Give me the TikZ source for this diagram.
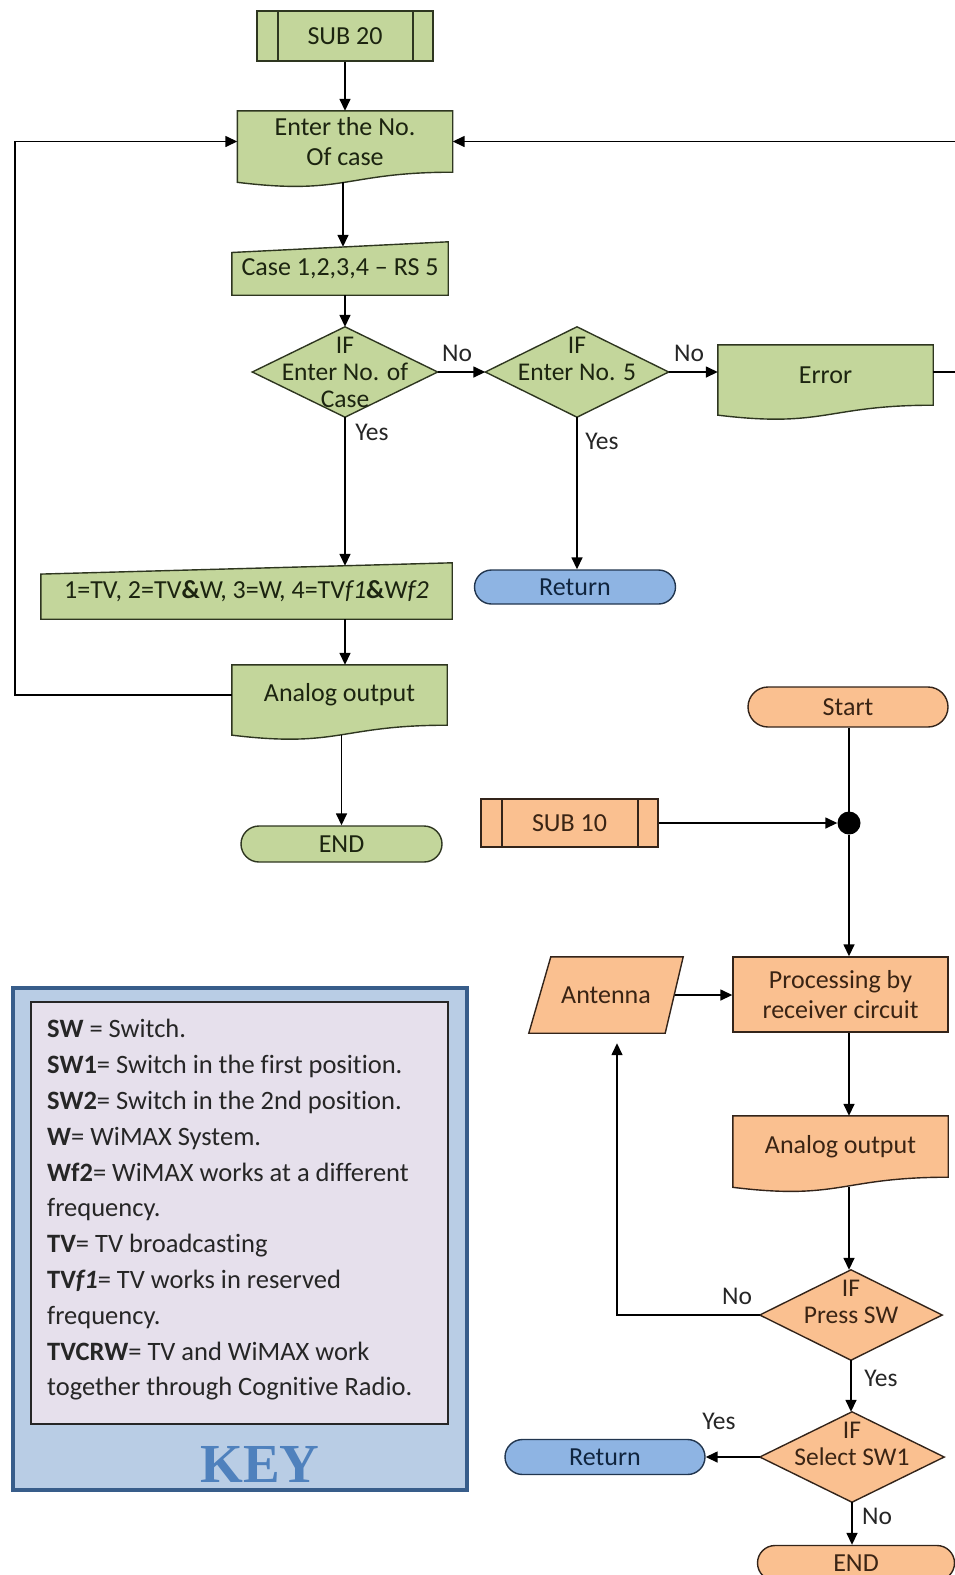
\documentclass[tikz,border=0pt]{standalone}
\usepackage{fontspec}
\setmainfont{Carlito}[Ligatures={TeX,NoCommon}]
\newfontfamily\keyfont{Liberation Serif}
\usetikzlibrary{arrows.meta,calc,backgrounds,shapes.misc}

\definecolor{gfill}{HTML}{C3D69B}
\definecolor{gdraw}{HTML}{2E3620}
\definecolor{ofill}{HTML}{FAC090}
\definecolor{odraw}{HTML}{33241A}
\definecolor{bfill}{HTML}{8EB4E3}
\definecolor{bdraw}{HTML}{22364F}
\definecolor{keyouter}{HTML}{B9CDE5}
\definecolor{keyborder}{HTML}{385D8A}
\definecolor{keyinner}{HTML}{E6E0EC}
\definecolor{keytitle}{HTML}{4F81BD}
\definecolor{gtext}{HTML}{1C2410}
\definecolor{otext}{HTML}{3A2414}
\definecolor{btext}{HTML}{10253F}

\begin{document}
\begin{tikzpicture}[x=1pt,y=-1pt,
  every node/.style={font=\fontsize{26}{31}\selectfont},
  base/.style={rectangle, inner sep=0pt, align=center},
  sz/.style 2 args={minimum width=#1pt, minimum height=#2pt},
  gtxt/.style={text=gtext},
  otxt/.style={text=otext},
  predef/.style={base, draw, line width=1.4pt,
    path picture={\draw[line width=1.4pt]
      ([xshift=21pt]path picture bounding box.north west) -- ([xshift=21pt]path picture bounding box.south west)
      ([xshift=-20pt]path picture bounding box.north east) -- ([xshift=-20pt]path picture bounding box.south east);}},
  term/.style={rounded rectangle, inner sep=0pt, line width=1.4pt, draw},
  diatxt/.style={base, font=\fontsize{25.5}{27}\selectfont},
  shp/.style={line width=1.4pt},
  arr/.style={-{Triangle[length=12pt,width=11pt]}, line width=1.5pt},
  ln/.style={line width=1.5pt},
  lbl/.style={font=\fontsize{25.5}{30}\selectfont, text=black!85, inner sep=0pt},
]
\useasboundingbox (0,0) rectangle (955,1575);

% ---------------- green flow ----------------
\node[predef, sz={176}{50}, fill=gfill, draw=gdraw, gtxt] (sub20) at (345,36) {SUB 20};
\node[base, sz={215}{61}, gtxt] (enter) at (345,141.5) {Enter the No.\\[-1pt]Of case};
\node[base, sz={216}{53}, gtxt] (case) at (340,268.5) {Case 1,2,3,4 -- RS 5};
\node[diatxt, sz={185}{90}, gtxt] (d1) at (345,372) {IF\\Enter No. of\\Case};
\node[diatxt, sz={183}{90}, gtxt] (d2) at (577,372) {IF\\Enter No. 5\\\phantom{I}};
\node[base, sz={215}{60}, gtxt] (err) at (825.5,375) {Error};
\node[term, sz={201}{34}, fill=bfill, draw=bdraw, text=btext] (ret1) at (575,587) {Return};
\node[base, sz={411}{56}, gtxt] (tv) at (246.5,591) {1=TV, 2=TV\textbf{\&}W, 3=W, 4=TV\textit{f1}\textbf{\&}W\textit{f2}};
\node[base, sz={215}{60}, gtxt] (ana1) at (339.5,695) {Analog output};
\node[term, sz={201}{36}, fill=gfill, draw=gdraw, gtxt] (end1) at (341.5,844) {END};

% ---------------- orange flow ----------------
\node[term, sz={200}{40}, fill=ofill, draw=odraw, otxt] (start) at (848,707) {Start};
\node[predef, sz={177}{48}, fill=ofill, draw=odraw, otxt] (sub10) at (569.5,823) {SUB 10};
\node[circle, fill=black, inner sep=0pt, minimum size=23pt] (dot) at (849,823) {};
\node[base, sz={154}{76}, otxt] (ant) at (606,995) {Antenna};
\node[base, sz={215}{75}, draw=odraw, fill=ofill, line width=1.4pt, otxt] (proc) at (840.5,994.5) {Processing by\\[-1pt]receiver circuit};
\node[base, sz={215}{61}, otxt] (ana2) at (840.5,1146.5) {Analog output};
\node[diatxt, sz={182}{90}, otxt] (ps) at (851,1315) {IF\\Press SW\\\phantom{I}};
\node[diatxt, sz={184}{90}, otxt] (sel) at (852,1457) {IF\\Select SW1\\\phantom{I}};
\node[term, sz={200}{35}, fill=bfill, draw=bdraw, text=btext] (ret2) at (605,1457) {Return};
\node[term, sz={197}{35}, fill=ofill, draw=odraw, otxt] (end2) at (856,1563) {END};

% ---------------- shapes behind the texts ----------------
\begin{scope}[on background layer]
  % document shapes
  \foreach \n/\f/\d in {enter/gfill/gdraw, err/gfill/gdraw, ana1/gfill/gdraw, ana2/ofill/odraw}{
    \filldraw[shp, fill=\f, draw=\d] (\n.north west) -- (\n.north east) -- (\n.south east)
      .. controls (\n.south) and ($(\n.south)!-0.381!(\n.north)$) ..
      ($(\n.south west)!-0.1646!(\n.north west)$) -- cycle;
  }
  % manual input shapes
  \foreach \n in {case, tv}{
    \filldraw[shp, fill=gfill, draw=gdraw] (\n.south west) -- ($(\n.north west)!0.2!(\n.south west)$)
      -- (\n.north east) -- (\n.south east) -- cycle;
  }
  % decisions
  \foreach \n/\f/\d in {d1/gfill/gdraw, d2/gfill/gdraw, ps/ofill/odraw, sel/ofill/odraw}{
    \filldraw[shp, fill=\f, draw=\d] (\n.north) -- (\n.east) -- (\n.south) -- (\n.west) -- cycle;
  }
  % data (parallelogram)
  \filldraw[shp, fill=ofill, draw=odraw] (ant.south west) -- ([xshift=22pt]ant.north west)
    -- (ant.north east) -- ([xshift=-18pt]ant.south east) -- cycle;
\end{scope}

% ---------------- connectors (green) ----------------
\coordinate (lft) at (15,0);
\coordinate (rgt) at (970,0);
\draw[arr] (sub20.south) -- (sub20.south |- enter.north);
\draw[arr] ($(enter.south)+(-2,10)$) -- ($(enter.south |- case.north)+(-2,5)$);
\draw[arr] (case.south -| d1) -- (d1.north);
\draw[arr] (d1.east) -- (d2.west);
\draw[arr] (d2.east) -- (d2.east -| err.west);
\draw[arr] (err.east |- d2.east) -- (d2.east -| rgt) |- (enter.east);
\draw[arr] (d1.south) -- ($(d1.south |- tv.north)+(0,3)$);
\draw[arr] (d2.south) -- (d2.south |- ret1.north);
\draw[arr] (tv.south -| d1) -- (ana1.north -| d1);
\draw[arr] (ana1.west) -- (ana1.west -| lft) |- (enter.west);
\draw[arr] ($(ana1.south)+(2,10)$) -- ($(ana1.south |- end1.north)+(2,0)$);

\node[lbl] (no1) at (457,353) {No};
\node[lbl] (no2) at (689,353) {No};
\node[lbl] (yes1) at (372,432) {Yes};
\node[lbl] (yes2) at (602,441) {Yes};

% ---------------- connectors (orange) ----------------
\coordinate (colR) at (849,0);
\draw[ln] (start.south -| colR) -- (dot.center);
\draw[arr] (sub10.east) -- (dot.west);
\draw[arr] (dot.south) -- (dot.south |- proc.north);
\draw[arr] ([xshift=-8pt]ant.east) -- (proc.west |- ant.east);
\draw[arr] (proc.south -| colR) -- (ana2.north -| colR);
\draw[arr] ($(ana2.south -| colR)+(0,10)$) -- (colR |- ps.north);
\draw[arr] (ps.west) -| ($(ant.south)+(11,10)$);
\draw[arr] (ps.south) -- (ps.south |- sel.north);
\draw[arr] (sel.west) -- (ret2.east);
\draw[arr] (sel.south) -- (sel.south |- end2.north);

\node[lbl] (no3) at (737,1296) {No};
\node[lbl] (yes3) at (881,1378) {Yes};
\node[lbl] (yes4) at (719,1421) {Yes};
\node[lbl] (no4) at (877,1516) {No};

% ---------------- key ----------------
\filldraw[fill=keyouter, draw=keyborder, line width=4pt] (13,988) rectangle (467,1490);
\filldraw[fill=keyinner, draw=black!85, line width=2pt] (31,1002) rectangle (448,1424);
\node[anchor=west, align=left, inner sep=0pt, text=black!85,
      font=\fontsize{26.5}{35.8}\selectfont] (keytext) at (47,1210) {%
\textbf{SW} = Switch.\\
\textbf{SW1}= Switch in the first position.\\
\textbf{SW2}= Switch in the 2nd position.\\
\textbf{W}= WiMAX System.\\
\textbf{Wf2}= WiMAX works at a different\\
frequency.\\
\textbf{TV}= TV broadcasting\\
\textbf{TV\textit{f1}}= TV works in reserved\\
frequency.\\
\textbf{TVCRW}= TV and WiMAX work\\
together through Cognitive Radio.};
\node[inner sep=0pt, text=keytitle, font=\keyfont\bfseries\fontsize{55}{60}\selectfont] (keytitle) at (260,1464) {KEY};
\end{tikzpicture}
\end{document}
